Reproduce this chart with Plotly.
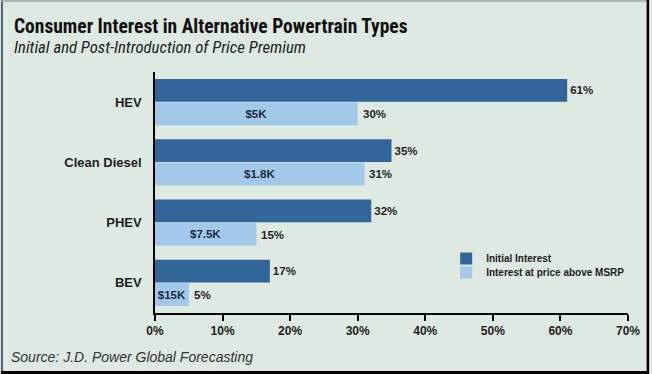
import plotly.graph_objects as go

categories = ["HEV", "Clean Diesel", "PHEV", "BEV"]
initial_interest = [61, 35, 32, 17]
price_interest = [30, 31, 15, 5]
price_premium = ["$5K", "$1.8K", "$7.5K", "$15K"]
x_ticks = [0, 10, 20, 30, 40, 50, 60, 70]
x_tick_labels = [f"{v}%" for v in x_ticks]

W, H = 652, 374
ML, MR, MT, MB = 155, 21, 72, 61
PW, PH = W - ML - MR, H - MT - MB

def px(x):
    return (x - ML) / PW

def py(y):
    return (H - MB - y) / PH

DARK = "#32659a"
LIGHT = "#a2c8ea"
BG = "#dee9e1"
TXT = "#1e1e1e"
FONT = "Liberation Sans"

fig = go.Figure()
fig.add_trace(go.Bar(
    y=categories, x=initial_interest, orientation="h", name="Initial Interest",
    marker=dict(color=DARK, line=dict(width=0)),
    text=[f"{v}%" for v in initial_interest], textposition="outside",
    textfont=dict(family=FONT, size=11.5, color=TXT, weight="bold"),
    cliponaxis=False, hoverinfo="skip", legend="legend",
))
fig.add_trace(go.Bar(
    y=categories, x=price_interest, orientation="h", name="Interest at price above MSRP",
    marker=dict(color=LIGHT, line=dict(width=0)),
    text=price_premium, textposition="inside", insidetextanchor="middle",
    textfont=dict(family=FONT, size=11.5, color="#1c2a44", weight="bold"),
    constraintext="none", hoverinfo="skip", legend="legend2",
))

annotations = []
for c, v in zip(categories, price_interest):
    annotations.append(dict(
        x=v, y=c, xref="x", yref="y", text=f"{v}%", showarrow=False,
        xanchor="left", yanchor="middle", xshift=3, yshift=-12,
        font=dict(family=FONT, size=11.5, color=TXT, weight="bold"),
    ))

annotations += [
    dict(x=px(11), y=py(26), xref="paper", yref="paper", xanchor="left", yanchor="middle",
         text="<span style='font-stretch:condensed'><b>Consumer Interest in Alternative Powertrain Types</b></span>",
         showarrow=False, font=dict(family="Roboto", size=19.5, color="#111111")),
    dict(x=px(11), y=py(48), xref="paper", yref="paper", xanchor="left", yanchor="middle",
         text="<span style='font-stretch:condensed'><i>Initial and Post-Introduction of Price Premium</i></span>",
         showarrow=False, font=dict(family="Roboto", size=16.7, color="#222222")),
    dict(x=px(8), y=py(357), xref="paper", yref="paper", xanchor="left", yanchor="middle",
         text="<i>Source: J.D. Power Global Forecasting</i>", showarrow=False,
         font=dict(family=FONT, size=14, color="#333333")),
]

shapes = [
    dict(type="line", xref="paper", yref="paper", x0=px(1), x1=px(1), y0=py(0), y1=py(H),
         line=dict(color="#4f5f78", width=2)),
    dict(type="line", xref="paper", yref="paper", x0=px(0), x1=px(W), y0=py(1), y1=py(1),
         line=dict(color="#9aa4a8", width=1.5)),
    dict(type="line", xref="paper", yref="paper", x0=px(W - 1), x1=px(W - 1), y0=py(0), y1=py(H),
         line=dict(color="#000000", width=2.5)),
    dict(type="line", xref="paper", yref="paper", x0=px(0), x1=px(W), y0=py(H - 1.5), y1=py(H - 1.5),
         line=dict(color="#000000", width=3)),
]

legend_style = dict(xanchor="left", yanchor="top", bgcolor="rgba(0,0,0,0)", itemwidth=30,
                    font=dict(family=FONT, size=10, color=TXT, weight="bold"))

fig.update_layout(
    width=W, height=H,
    margin=dict(l=ML, r=MR, t=MT, b=MB, pad=0),
    paper_bgcolor=BG, plot_bgcolor=BG,
    barmode="group", bargap=0.22, bargroupgap=0.03,
    showlegend=True,
    legend=dict(x=px(448), y=py(244), **legend_style),
    legend2=dict(x=px(448), y=py(258), **legend_style),
    annotations=annotations, shapes=shapes,
    xaxis=dict(range=[0, 70], tickvals=x_ticks, ticktext=x_tick_labels,
               showgrid=False, zeroline=False, showline=True, linecolor="#000000", linewidth=1.5,
               ticks="outside", ticklen=6, tickcolor="#000000", tickwidth=1.5,
               tickfont=dict(family=FONT, size=12, color=TXT, weight="bold")),
    yaxis=dict(categoryorder="array", categoryarray=categories, autorange="reversed",
               showgrid=False, zeroline=False, showline=True, linecolor="#000000", linewidth=1.5,
               ticks="", ticklabelstandoff=9,
               tickfont=dict(family=FONT, size=13, color=TXT, weight="bold")),
    font=dict(family=FONT),
)

fig.write_html("out.html", config={"displayModeBar": False},
               post_script="document.body.style.margin='0';document.body.style.overflow='hidden';")
